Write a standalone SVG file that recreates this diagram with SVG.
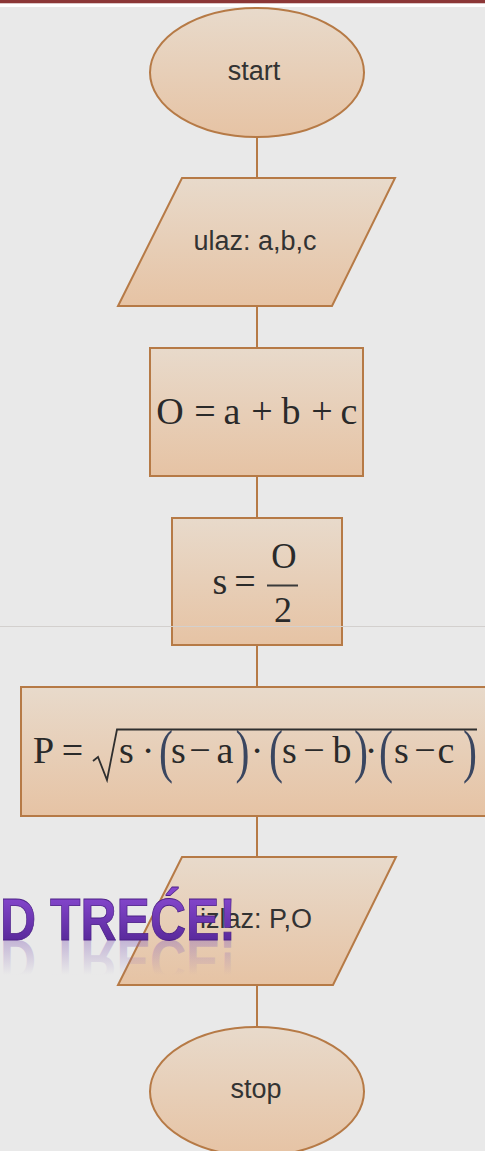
<svg xmlns="http://www.w3.org/2000/svg" width="485" height="1151" viewBox="0 0 485 1151">
<defs>
<linearGradient id="fillG" x1="0" y1="0" x2="0" y2="1">
<stop offset="0" stop-color="#e8dacb"/>
<stop offset="1" stop-color="#e6c3a4"/>
</linearGradient>
<linearGradient id="purpleG" x1="0" y1="897" x2="0" y2="940" gradientUnits="userSpaceOnUse">
<stop offset="0" stop-color="#8446cc"/>
<stop offset="1" stop-color="#5a2a9c"/>
</linearGradient>
<linearGradient id="reflG" x1="0" y1="940" x2="0" y2="905" gradientUnits="userSpaceOnUse">
<stop offset="0" stop-color="#8a66b8" stop-opacity="0.4"/>
<stop offset="1" stop-color="#8a66b8" stop-opacity="0"/>
</linearGradient>
<style>
.shape{fill:url(#fillG);stroke:#b67a46;stroke-width:2}
.conn{stroke:#b67a46;stroke-width:2;fill:none}
.lbl{font-family:"Liberation Sans",Arial,sans-serif;font-size:27px;fill:#333;text-anchor:middle}
.m{font-family:"Liberation Serif","Times New Roman",serif;font-size:38px;fill:#2a2a2a;text-anchor:middle}
.par{font-family:"Liberation Serif","Times New Roman",serif;font-size:60px;fill:#3a4660;text-anchor:middle}
.big{font-family:"Liberation Sans",Arial,sans-serif;font-weight:bold;font-size:60px}
</style>
</defs>
<rect x="0" y="0" width="485" height="1151" fill="#e9e9e9"/>
<rect x="0" y="0" width="485" height="3.5" fill="#8c3737"/>
<rect x="0" y="3.5" width="485" height="3.5" fill="#ffffff"/>

<g id="connectors">
<line class="conn" x1="257" y1="137" x2="257" y2="178"/>
<line class="conn" x1="257" y1="306" x2="257" y2="348"/>
<line class="conn" x1="257" y1="476" x2="257" y2="518"/>
<line class="conn" x1="257" y1="645" x2="257" y2="687"/>
<line class="conn" x1="257" y1="816" x2="257" y2="857"/>
<line class="conn" x1="257" y1="985" x2="257" y2="1027"/>
</g>

<g id="start">
<ellipse class="shape" cx="257" cy="72.5" rx="107" ry="64.5"/>
<text class="lbl" x="254" y="80">start</text>
</g>

<g id="input">
<polygon class="shape" points="182,178 395,178 332,306 118,306"/>
<text class="lbl" x="255" y="250">ulaz: a,b,c</text>
</g>

<g id="perimeter">
<rect class="shape" x="150" y="348" width="213" height="128"/>
<text class="m" y="424"><tspan x="170">O</tspan><tspan x="205">=</tspan><tspan x="232">a</tspan><tspan x="262">+</tspan><tspan x="291">b</tspan><tspan x="322">+</tspan><tspan x="349">c</tspan></text>
</g>

<g id="semi">
<rect class="shape" x="172" y="518" width="170" height="127"/>
<text class="m" y="594"><tspan x="220">s</tspan><tspan x="245">=</tspan></text>
<rect x="267" y="584.5" width="31" height="2" fill="#3a3a3a"/>
<text class="m" x="284" y="568" style="font-size:35px">O</text>
<text class="m" x="283" y="622" style="font-size:36px">2</text>
</g>

<line x1="0" y1="626.5" x2="485" y2="626.5" stroke="#d3d0ce" stroke-width="1"/>

<g id="area">
<rect class="shape" x="21" y="687" width="470" height="129"/>
<text class="m" y="763"><tspan x="43.5">P</tspan><tspan x="72.5">=</tspan><tspan x="126.5">s</tspan><tspan x="148">·</tspan><tspan x="178.5">s</tspan><tspan x="200">−</tspan><tspan x="225">a</tspan><tspan x="257">·</tspan><tspan x="289.5">s</tspan><tspan x="314">−</tspan><tspan x="342">b</tspan><tspan x="371">·</tspan><tspan x="401.5">s</tspan><tspan x="425">−</tspan><tspan x="446">c</tspan></text>
<text class="par" transform="translate(166,771) scale(0.7,1)">(</text>
<text class="par" transform="translate(242.5,771) scale(0.7,1)">)</text>
<text class="par" transform="translate(276,771) scale(0.7,1)">(</text>
<text class="par" transform="translate(361,771) scale(0.7,1)">)</text>
<text class="par" transform="translate(386,771) scale(0.7,1)">(</text>
<text class="par" transform="translate(470,771) scale(0.7,1)">)</text>
<polyline points="93,761 98,757 107,780 117,729.5 477,729.5" fill="none" stroke="#2f2f2f" stroke-width="1.8" stroke-linejoin="miter"/>
</g>

<g id="output">
<polygon class="shape" points="182,857 396,857 333,985 118,985"/>
<text class="lbl" x="256" y="928">izlaz: P,O</text>
</g>

<g id="stop">
<ellipse class="shape" cx="257" cy="1091.5" rx="107" ry="64.5"/>
<text class="lbl" x="256" y="1098">stop</text>
</g>

<g id="overlay-title">
<text class="big" x="0" y="940" textLength="236" lengthAdjust="spacingAndGlyphs" fill="url(#reflG)" transform="translate(0,1880) scale(1,-1)">D TREĆE!</text>
<text class="big" x="0" y="940" textLength="236" lengthAdjust="spacingAndGlyphs" fill="url(#purpleG)" stroke="#4a1f86" stroke-width="0.8">D TREĆE!</text>
</g>
</svg>
